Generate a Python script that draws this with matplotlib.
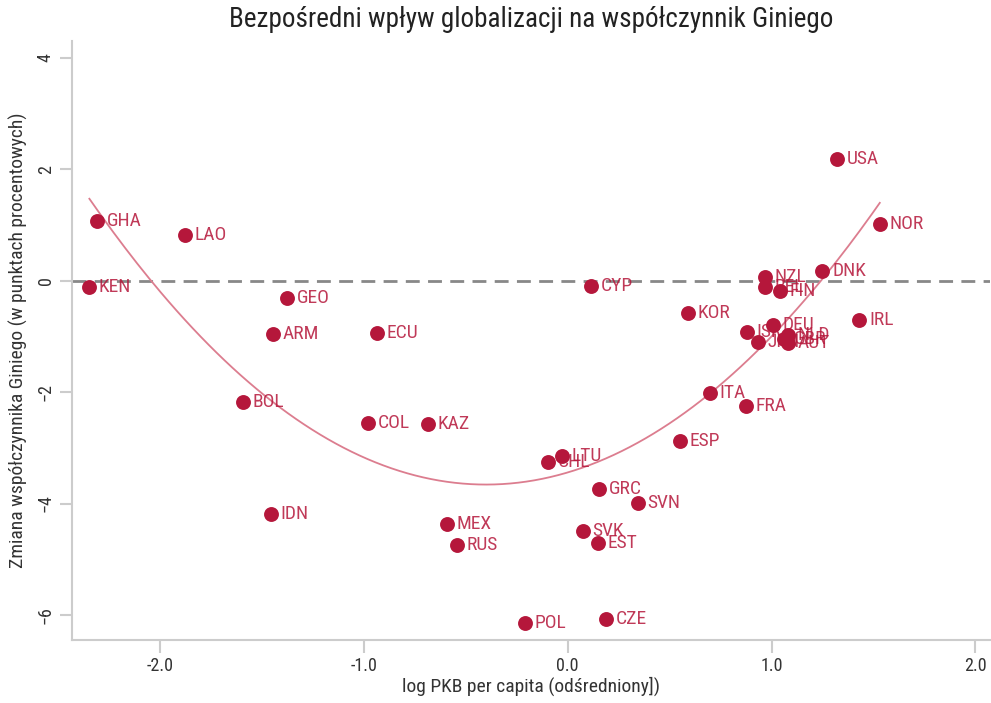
"""
Bezpośredni wpływ globalizacji na współczynnik Giniego - wykres punktowy z dopasowaniem kwadratowym.
"""
import matplotlib
matplotlib.use('Agg')
import matplotlib.pyplot as plt
from matplotlib import font_manager
import numpy as np

installed = {f.name for f in font_manager.fontManager.ttflist}
families = [f for f in ['Roboto Condensed', 'Liberation Sans Narrow', 'Roboto', 'DejaVu Sans'] if f in installed]
plt.rcParams['font.family'] = families

countries = ['GHA', 'LAO', 'KEN', 'GEO', 'ARM', 'ECU', 'BOL', 'COL', 'KAZ', 'IDN',
             'MEX', 'RUS', 'POL', 'CZE', 'CHL', 'LTU', 'GRC', 'SVN', 'SVK', 'EST',
             'CYP', 'KOR', 'ITA', 'ESP', 'FRA', 'USA', 'NOR', 'DNK', 'NZL', 'BEL',
             'FIN', 'IRL', 'DEU', 'ISR', 'JPN', 'NLD', 'AUT', 'GBR']
log_gdp = [-2.307, -1.875, -2.346, -1.376, -1.444, -0.935, -1.592, -0.979, -0.685, -1.454,
           -0.592, -0.543, -0.209, 0.188, -0.096, -0.028, 0.153, 0.345, 0.075, 0.149,
           0.115, 0.590, 0.698, 0.551, 0.874, 1.323, 1.531, 1.250, 0.967, 0.967,
           1.040, 1.430, 1.008, 0.879, 0.934, 1.081, 1.081, 1.060]
gini_change = [1.07, 0.82, -0.12, -0.31, -0.96, -0.94, -2.18, -2.56, -2.58, -4.18,
               -4.37, -4.75, -6.15, -6.08, -3.26, -3.15, -3.74, -3.99, -4.50, -4.71,
               -0.10, -0.58, -2.02, -2.88, -2.25, 2.18, 1.01, 0.18, 0.07, -0.12,
               -0.19, -0.70, -0.80, -0.92, -1.10, -0.98, -1.12, -1.05]

# dopasowanie kwadratowe: y = a*(x - h)^2 + k
fit_a, fit_h, fit_k = 1.356, -0.40, -3.66
fit_x_range = (-2.345, 1.531)

DOT = '#b5173b'
CURVE = '#dc7d8f'
GREY = '#cccccc'

fig = plt.figure(figsize=(9.91, 7.03), dpi=100)
ax = fig.add_axes([0.0727, 0.0896, 0.926, 0.852])

xs = np.linspace(*fit_x_range, 200)
ax.plot(xs, fit_a * (xs - fit_h) ** 2 + fit_k, color=CURVE, linewidth=1.3, zorder=2)
ax.axhline(0, color='#888888', linestyle=(0, (5, 3)), linewidth=2, zorder=1)
ax.scatter(log_gdp, gini_change, s=115, color=DOT, zorder=3, linewidths=0)
for name, x, y in zip(countries, log_gdp, gini_change):
    ax.annotate(name, (x, y), xytext=(7, 0), textcoords='offset points',
                va='center', ha='left', fontsize=14, color=DOT, alpha=0.85, zorder=4)

ax.set_xlim(-2.43, 2.07)
ax.set_ylim(-6.45, 4.3)
ax.set_xticks([-2, -1, 0, 1, 2])
ax.set_xticklabels(['-2.0', '-1.0', '0.0', '1.0', '2.0'])
ax.set_yticks([-6, -4, -2, 0, 2, 4])
ax.tick_params(axis='both', colors=GREY, length=9, width=1.5, labelcolor='#333333', labelsize=13)
ax.tick_params(axis='y', labelrotation=90)
for lbl in ax.get_yticklabels():
    lbl.set_va('center')
for side in ['top', 'right']:
    ax.spines[side].set_visible(False)
for side in ['left', 'bottom']:
    ax.spines[side].set_color(GREY)
    ax.spines[side].set_linewidth(1.5)

ax.set_xlabel('log PKB per capita (odśredniony])', fontsize=14, color='#333333', labelpad=1)
ax.set_ylabel('Zmiana współczynnika Giniego (w punktach procentowych)', fontsize=14,
              color='#333333', labelpad=6)
ax.set_title('Bezpośredni wpływ globalizacji na współczynnik Giniego', fontsize=19.5,
             color='#222222', pad=10)

plt.savefig('out.png', dpi=100, facecolor='white')
